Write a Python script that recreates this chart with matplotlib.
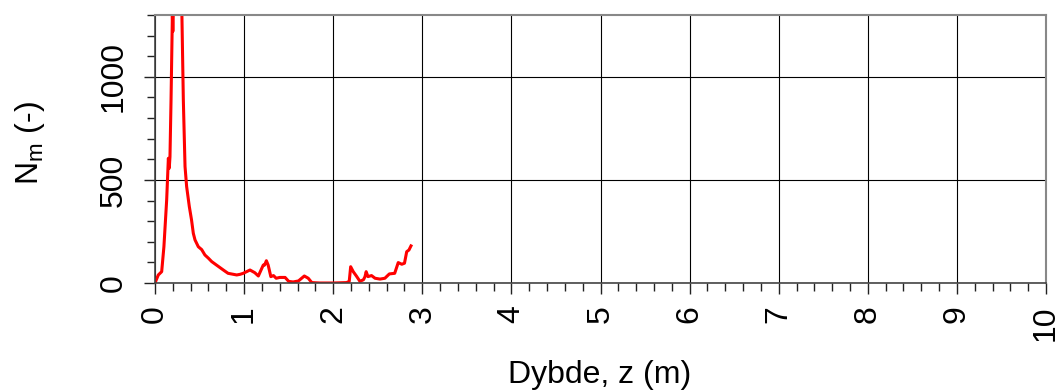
import matplotlib
matplotlib.use("Agg")
import matplotlib.pyplot as plt
from matplotlib.ticker import MultipleLocator

plt.rcParams['font.family'] = ['Liberation Sans', 'DejaVu Sans']

depth = [0.0, 0.037, 0.075, 0.10, 0.131, 0.15, 0.16, 0.168, 0.18, 0.195, 0.20, 0.205,
         0.22, 0.25, 0.28, 0.30, 0.318, 0.337, 0.355, 0.385, 0.41, 0.43, 0.449, 0.486,
         0.524, 0.56, 0.60, 0.636, 0.69, 0.767, 0.82, 0.917, 0.954, 0.99, 1.066, 1.12,
         1.16, 1.215, 1.23, 1.25, 1.27, 1.30, 1.33, 1.36, 1.40, 1.46, 1.50, 1.55, 1.61,
         1.676, 1.72, 1.76, 1.85, 2.0, 2.15, 2.18, 2.196, 2.225, 2.26, 2.30, 2.34, 2.357,
         2.37, 2.39, 2.43, 2.47, 2.525, 2.58, 2.63, 2.69, 2.73, 2.77, 2.80, 2.825, 2.85,
         2.873]
nm = [0, 39, 55, 176, 403, 605, 557, 612, 888, 1300, 1220, 1300,
      1500, 1800, 1700, 1350, 888, 565, 468, 371, 306, 241, 209, 176,
      162, 136, 120, 104, 87, 63, 47, 39, 42, 47, 63, 50,
      34, 87, 87, 108, 87, 31, 36, 23, 27, 27, 8, 5, 10,
      34, 23, 2, 0, 0, 2, 8, 79, 55, 34, 8, 16, 31,
      55, 31, 36, 23, 19, 23, 44, 47, 99, 91, 96, 152, 160,
      180]

x_ticks = list(range(0, 11))
y_ticks = [0, 500, 1000]

FS = 23
W, H = 1064, 392
fig = plt.figure(figsize=(W / 100, H / 100), dpi=100)
ax = fig.add_axes([155 / W, 1 - 283 / H, (1046 - 155) / W, (283 - 15) / H])
ax.plot(depth, nm, color='#ff0000', lw=2.2, solid_joinstyle='round')
ax.set_xlim(0, 10)
ax.set_ylim(0, 1300)
ax.set_xticks(x_ticks)
ax.set_yticks(y_ticks)
ax.xaxis.set_minor_locator(MultipleLocator(0.2))
ax.yaxis.set_minor_locator(MultipleLocator(100))
ax.set_xticklabels([str(t) for t in x_ticks], rotation=90, fontsize=FS)
ax.set_yticklabels([str(t) for t in y_ticks], rotation=90, fontsize=FS, va='center')
ax.grid(True, which='major', color='black', lw=0.8)
ax.tick_params(which='both', direction='out', color='#222222', width=1.0)
ax.tick_params(which='major', length=8, pad=8)
ax.tick_params(which='minor', length=5.5)
ax.tick_params(axis='y', which='major', pad=11)
for s in ['left', 'bottom']:
    ax.spines[s].set_color('#444444')
    ax.spines[s].set_linewidth(1.2)
for s in ['top', 'right']:
    ax.spines[s].set_color('#888888')
    ax.spines[s].set_linewidth(1.5)
fig.text(600 / W, 1 - 375 / H, 'Dybde, z (m)', fontsize=FS, ha='center', va='center')
fig.text(30 / W, 1 - 143 / H, 'N$_\\mathregular{m}$ (-)', fontsize=FS,
         ha='center', va='center', rotation=90)
fig.savefig('out.png', dpi=100)
